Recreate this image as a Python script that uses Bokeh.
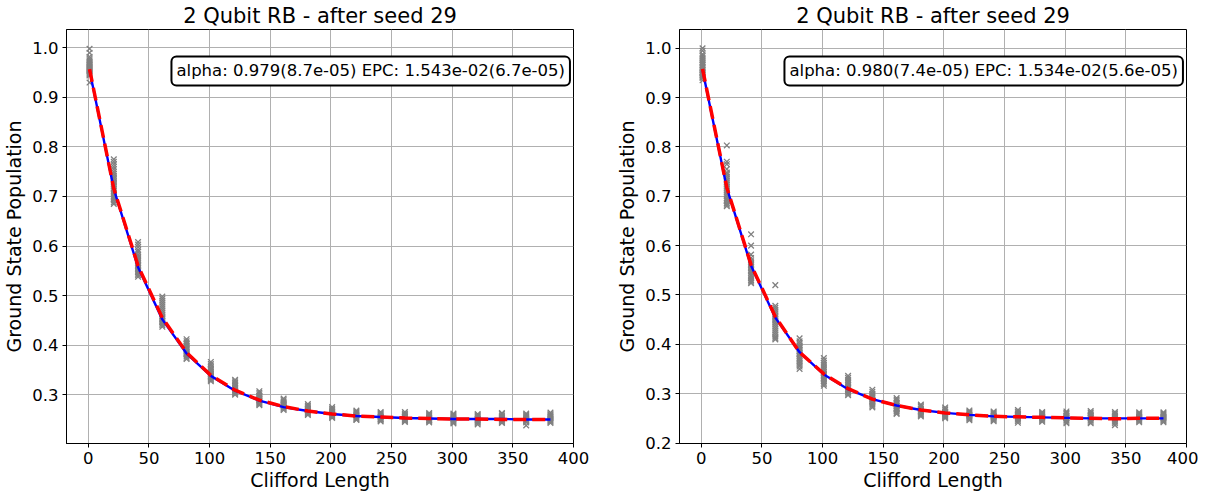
from bokeh.plotting import figure
from bokeh.layouts import row
from bokeh.models import Label, FixedTicker, PrintfTickFormatter, Range1d, Title
from bokeh.embed import file_html
from bokeh.resources import INLINE

FONT = "DejaVu Sans"

lengths = [1, 21, 41, 61, 81, 101, 121, 141, 161, 181, 201, 221, 241, 261, 281, 301, 321, 341, 361, 381]

left_seeds = [
    [0.998, 0.990, 0.982, 0.978, 0.975, 0.972, 0.970, 0.968, 0.966, 0.964, 0.962, 0.960, 0.958,
     0.956, 0.954, 0.952, 0.950, 0.948, 0.946, 0.944, 0.930],
    [0.775, 0.770, 0.765, 0.760, 0.755, 0.750, 0.746, 0.742, 0.738, 0.735, 0.731, 0.728, 0.724,
     0.720, 0.716, 0.712, 0.708, 0.705, 0.701, 0.698, 0.695, 0.692, 0.688, 0.685],
    [0.608, 0.603, 0.598, 0.592, 0.588, 0.583, 0.579, 0.576, 0.572, 0.569, 0.565, 0.562, 0.559,
     0.556, 0.553, 0.550, 0.547, 0.544, 0.541, 0.538],
    [0.498, 0.494, 0.490, 0.486, 0.482, 0.478, 0.474, 0.470, 0.466, 0.462, 0.458, 0.455, 0.452,
     0.449, 0.446, 0.443, 0.440, 0.437],
    [0.412, 0.408, 0.405, 0.402, 0.399, 0.396, 0.393, 0.390, 0.387, 0.384, 0.382, 0.379, 0.377,
     0.374, 0.372],
    [0.366, 0.362, 0.359, 0.355, 0.352, 0.349, 0.346, 0.343, 0.341, 0.338, 0.336, 0.333, 0.331,
     0.329, 0.327],
    [0.330, 0.327, 0.324, 0.321, 0.318, 0.315, 0.313, 0.310, 0.308, 0.306, 0.304, 0.302, 0.300],
    [0.307, 0.304, 0.301, 0.298, 0.296, 0.293, 0.291, 0.289, 0.287, 0.285, 0.283, 0.281, 0.279],
    [0.292, 0.289, 0.286, 0.283, 0.281, 0.279, 0.277, 0.275, 0.273, 0.271, 0.269],
    [0.281, 0.278, 0.276, 0.273, 0.271, 0.269, 0.267, 0.265, 0.263, 0.261, 0.259],
    [0.275, 0.272, 0.270, 0.267, 0.265, 0.263, 0.261, 0.259, 0.257, 0.255, 0.253],
    [0.268, 0.266, 0.264, 0.262, 0.260, 0.258, 0.256, 0.254, 0.252, 0.250, 0.249],
    [0.265, 0.263, 0.261, 0.259, 0.257, 0.255, 0.253, 0.251, 0.250, 0.248, 0.246],
    [0.265, 0.262, 0.260, 0.258, 0.256, 0.254, 0.252, 0.250, 0.249, 0.247, 0.245],
    [0.263, 0.261, 0.259, 0.257, 0.255, 0.253, 0.251, 0.249, 0.248, 0.246, 0.244],
    [0.262, 0.260, 0.258, 0.256, 0.254, 0.252, 0.250, 0.248, 0.246, 0.244, 0.242],
    [0.261, 0.259, 0.257, 0.255, 0.253, 0.251, 0.249, 0.247, 0.245, 0.243, 0.240],
    [0.263, 0.261, 0.258, 0.256, 0.254, 0.252, 0.250, 0.248, 0.246, 0.244, 0.243],
    [0.262, 0.260, 0.258, 0.256, 0.254, 0.252, 0.250, 0.248, 0.246, 0.244, 0.238],
    [0.264, 0.261, 0.259, 0.257, 0.255, 0.253, 0.251, 0.249, 0.247, 0.245, 0.243],
]
left_mean = [0.957, 0.716, 0.560, 0.455, 0.385, 0.339, 0.309, 0.289, 0.276, 0.267,
             0.261, 0.257, 0.255, 0.253, 0.252, 0.251, 0.251, 0.250, 0.250, 0.250]
left_fit = [0.955, 0.715, 0.557, 0.452, 0.383, 0.338, 0.308, 0.288, 0.275, 0.267,
            0.261, 0.257, 0.255, 0.253, 0.252, 0.251, 0.251, 0.251, 0.250, 0.250]

right_seeds = [
    [1.000, 0.995, 0.988, 0.984, 0.980, 0.976, 0.972, 0.969, 0.966, 0.963, 0.960, 0.957, 0.955,
     0.952, 0.950, 0.947, 0.945, 0.942, 0.940, 0.935],
    [0.803, 0.770, 0.765, 0.755, 0.748, 0.744, 0.740, 0.736, 0.732, 0.728, 0.724, 0.720, 0.716,
     0.712, 0.708, 0.704, 0.700, 0.696, 0.693, 0.690, 0.686, 0.683, 0.680],
    [0.623, 0.600, 0.582, 0.575, 0.570, 0.566, 0.563, 0.560, 0.557, 0.554, 0.551, 0.548, 0.545,
     0.541, 0.538, 0.534, 0.530, 0.527, 0.524],
    [0.520, 0.478, 0.474, 0.470, 0.466, 0.462, 0.458, 0.455, 0.451, 0.448, 0.444, 0.440, 0.436,
     0.432, 0.428, 0.424, 0.420, 0.416, 0.413, 0.410],
    [0.412, 0.406, 0.402, 0.398, 0.395, 0.392, 0.389, 0.386, 0.383, 0.380, 0.377, 0.373, 0.370,
     0.366, 0.362, 0.358, 0.355, 0.350],
    [0.372, 0.367, 0.362, 0.358, 0.354, 0.350, 0.347, 0.344, 0.341, 0.338, 0.335, 0.332, 0.329,
     0.325, 0.322, 0.319, 0.316],
    [0.336, 0.332, 0.328, 0.324, 0.321, 0.318, 0.315, 0.312, 0.309, 0.306, 0.303, 0.300, 0.297],
    [0.308, 0.304, 0.300, 0.297, 0.294, 0.291, 0.288, 0.285, 0.283, 0.280, 0.278, 0.275, 0.272],
    [0.291, 0.288, 0.285, 0.282, 0.279, 0.276, 0.274, 0.271, 0.269, 0.266, 0.264, 0.261, 0.259],
    [0.278, 0.276, 0.273, 0.270, 0.268, 0.265, 0.263, 0.260, 0.258, 0.256, 0.254],
    [0.272, 0.270, 0.267, 0.264, 0.262, 0.260, 0.258, 0.256, 0.254, 0.252, 0.250],
    [0.266, 0.264, 0.262, 0.260, 0.258, 0.256, 0.254, 0.252, 0.250, 0.248, 0.246],
    [0.264, 0.262, 0.260, 0.258, 0.256, 0.254, 0.252, 0.250, 0.248, 0.246, 0.244],
    [0.267, 0.264, 0.262, 0.259, 0.257, 0.254, 0.252, 0.249, 0.247, 0.244, 0.241],
    [0.263, 0.261, 0.259, 0.257, 0.255, 0.253, 0.251, 0.249, 0.247, 0.245, 0.243],
    [0.264, 0.261, 0.259, 0.256, 0.254, 0.252, 0.250, 0.247, 0.245, 0.242, 0.240],
    [0.265, 0.262, 0.260, 0.257, 0.255, 0.252, 0.250, 0.247, 0.245, 0.242, 0.240],
    [0.263, 0.260, 0.258, 0.255, 0.253, 0.250, 0.248, 0.245, 0.243, 0.240, 0.236],
    [0.262, 0.260, 0.258, 0.256, 0.254, 0.252, 0.250, 0.248, 0.246, 0.244, 0.242],
    [0.262, 0.260, 0.258, 0.256, 0.254, 0.252, 0.250, 0.248, 0.246, 0.244, 0.242],
]
right_mean = [0.958, 0.718, 0.561, 0.456, 0.384, 0.340, 0.310, 0.289, 0.276, 0.267,
              0.261, 0.257, 0.254, 0.253, 0.252, 0.251, 0.250, 0.249, 0.250, 0.250]
right_fit = [0.956, 0.717, 0.559, 0.454, 0.384, 0.339, 0.309, 0.289, 0.276, 0.267,
             0.261, 0.257, 0.254, 0.253, 0.252, 0.251, 0.250, 0.250, 0.250, 0.250]

title_text = "2 Qubit RB - after seed 29"
left_box = "alpha: 0.979(8.7e-05) EPC: 1.543e-02(6.7e-05)"
right_box = "alpha: 0.980(7.4e-05) EPC: 1.534e-02(5.6e-05)"
x_ticks = [0, 50, 100, 150, 200, 250, 300, 350, 400]
y_ticks = [0.2, 0.3, 0.4, 0.5, 0.6, 0.7, 0.8, 0.9, 1.0]


def make_plot(seeds, mean, fit, box_text, y_range, border_left, border_right):
    p = figure(frame_width=507, frame_height=414,
               x_range=Range1d(-18, 400), y_range=Range1d(*y_range),
               output_backend="svg", toolbar_location=None,
               min_border_left=border_left, min_border_right=border_right,
               min_border_top=0, min_border_bottom=0)
    p.add_layout(Title(text=title_text, align="center", text_font=FONT,
                       text_font_size="21px", text_font_style="normal",
                       text_color="black", standoff=3), "above")
    xs, ys = [], []
    for L, vals in zip(lengths, seeds):
        for v in vals:
            xs.append(L)
            ys.append(v)
    p.scatter(xs, ys, marker="x", size=8, line_color="gray", line_width=1.3)
    p.line(lengths, fit, line_color="blue", line_width=2.4)
    p.line(lengths, mean, line_color="red", line_width=3.5, line_dash="13 6")

    p.add_layout(Label(x=0.6 * 418 - 18, y=y_range[0] + 0.9 * (y_range[1] - y_range[0]),
                       text=box_text, text_align="center", text_baseline="middle",
                       text_font=FONT, text_font_size="16.5px", text_color="black",
                       background_fill_color="white", border_line_color="black",
                       border_line_width=2, padding=5, border_radius=5))

    for ax in (p.xaxis, p.yaxis):
        ax.axis_line_color = "black"
        ax.major_tick_line_color = "black"
        ax.minor_tick_line_color = None
        ax.major_tick_out = 4
        ax.major_tick_in = 0
        ax.major_label_text_font = FONT
        ax.major_label_text_font_size = "16.5px"
        ax.major_label_text_color = "black"
        ax.axis_label_text_font = FONT
        ax.axis_label_text_font_size = "19px"
        ax.axis_label_text_font_style = "normal"
        ax.axis_label_text_color = "black"
        ax.major_label_standoff = 4
        ax.axis_label_standoff = 4
    p.xaxis.axis_label_standoff = 2
    p.xaxis.axis_label = "Clifford Length"
    p.yaxis.axis_label = "Ground State Population"
    p.xaxis.ticker = FixedTicker(ticks=x_ticks)
    p.yaxis.ticker = FixedTicker(ticks=y_ticks)
    p.yaxis.formatter = PrintfTickFormatter(format="%.1f")
    p.grid.grid_line_color = "#b0b0b0"
    p.grid.grid_line_width = 1
    p.xgrid.ticker = FixedTicker(ticks=x_ticks)
    p.ygrid.ticker = FixedTicker(ticks=y_ticks)
    p.outline_line_color = "black"
    p.outline_line_width = 1
    p.background_fill_color = "white"
    p.border_fill_color = "white"
    return p


p1 = make_plot(left_seeds, left_mean, left_fit, left_box, (0.2015, 1.037), 62, 40)
p2 = make_plot(right_seeds, right_mean, right_fit, right_box, (0.199, 1.038), 60, 12)

layout = row(p1, p2)
open("out.html", "w").write(file_html(layout, INLINE))
